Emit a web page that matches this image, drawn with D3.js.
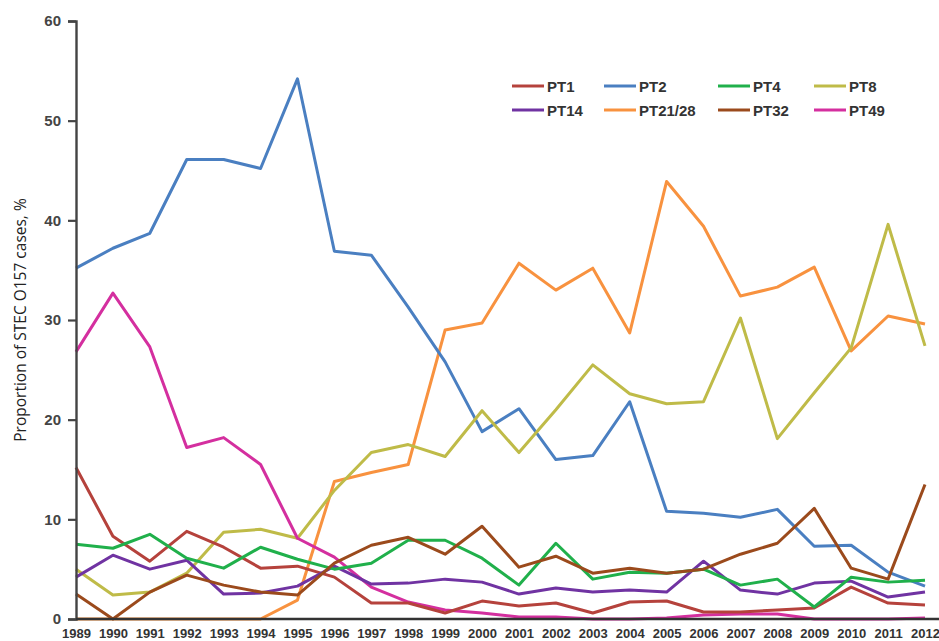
<!DOCTYPE html>
<html><head><meta charset="utf-8">
<script src="https://cdn.jsdelivr.net/npm/d3@7"></script>
<style>body{margin:0;background:#fff}svg{display:block}</style>
</head><body>
<svg id="c" width="939" height="641"></svg>
<script>
const years = d3.range(1989, 2013);
const yTicks = [0, 10, 20, 30, 40, 50, 60];
const seriesNames = ["PT1","PT2","PT4","PT8","PT14","PT21/28","PT32","PT49"];
const seriesColors = ["#b5423c","#4a7fc1","#20b04b","#bfbb48","#7033a2","#f8923f","#9b4a1c","#d42f9f"];
const PT1 = [15.2,8.3,5.8,8.8,7.2,5.1,5.3,4.2,1.6,1.6,0.6,1.8,1.3,1.6,0.6,1.7,1.8,0.7,0.7,0.9,1.1,3.2,1.6,1.4];
const PT2 = [35.2,37.2,38.7,46.1,46.1,45.2,54.2,36.9,36.5,31.3,25.8,18.8,21.1,16.0,16.4,21.8,10.8,10.6,10.2,11.0,7.3,7.4,4.7,3.3];
const PT4 = [7.5,7.1,8.5,6.1,5.1,7.2,6.0,5.0,5.6,7.9,7.9,6.1,3.4,7.6,4.0,4.7,4.6,5.0,3.4,4.0,1.2,4.2,3.7,3.9];
const PT8 = [5.0,2.4,2.7,4.6,8.7,9.0,8.1,12.9,16.7,17.5,16.3,20.9,16.7,21.0,25.5,22.6,21.6,21.8,30.2,18.1,22.7,27.2,39.6,27.4];
const PT14 = [4.2,6.4,5.0,5.9,2.5,2.6,3.3,5.3,3.5,3.6,4.0,3.7,2.5,3.1,2.7,2.9,2.7,5.8,2.9,2.5,3.6,3.8,2.2,2.7];
const PT21_28 = [0,0,0,0,0,0,1.9,13.8,14.7,15.5,29.0,29.7,35.7,33.0,35.2,28.7,43.9,39.4,32.4,33.3,35.3,26.9,30.4,29.6];
const PT32 = [2.5,0,2.7,4.4,3.4,2.7,2.4,5.6,7.4,8.2,6.5,9.3,5.2,6.3,4.6,5.1,4.6,5.0,6.5,7.6,11.1,5.1,4.0,13.5];
const PT49 = [26.8,32.7,27.3,17.2,18.2,15.5,8.1,6.2,3.2,1.7,0.9,0.6,0.2,0.2,0,0,0.1,0.4,0.5,0.5,0,0,0,0.1];
const seriesValues = [PT1,PT2,PT4,PT8,PT14,PT21_28,PT32,PT49];

const svg = d3.select("#c");
const x = d3.scaleLinear().domain([1989, 2012]).range([76, 925]);
const y = d3.scaleLinear().domain([0, 60]).range([619, 21]);

// series lines
const line = d3.line().x((d,i)=>x(years[i])).y(d=>y(d));
const drawOrder = [5,1,3,7,0,4,2,6];
drawOrder.forEach(k=>{
  svg.append("path").datum(seriesValues[k])
    .attr("d", line).attr("fill","none")
    .attr("stroke", seriesColors[k]).attr("stroke-width", 3)
    .attr("stroke-linejoin","round");
});

// y axis
const yAxis = svg.append("g").attr("transform","translate(76,0)")
  .call(d3.axisLeft(y).tickValues(yTicks).tickSize(8).tickPadding(7));
yAxis.select(".domain").attr("stroke","#444").attr("stroke-width",2.4);
yAxis.selectAll(".tick line").attr("stroke","#444").attr("stroke-width",2.2);
yAxis.selectAll("text").attr("font-family","Liberation Sans, Arial, sans-serif")
  .attr("font-size",15).attr("font-weight","bold").attr("fill","#444");

// x axis
const xAxis = svg.append("g").attr("transform","translate(0,619)")
  .call(d3.axisBottom(x).tickValues(years).tickFormat(d3.format("d")).tickSize(0).tickPadding(10));
xAxis.select(".domain").attr("stroke","#333").attr("stroke-width",2.4).attr("d","M76,0H939");
xAxis.selectAll("text").attr("font-family","Liberation Sans, Arial, sans-serif")
  .attr("font-size",13).attr("font-weight","bold").attr("fill","#333");

// y label
svg.append("text").attr("transform","translate(26,320) rotate(-90)")
  .attr("text-anchor","middle").attr("font-family","Open Sans, Liberation Sans, Arial, sans-serif")
  .attr("font-size",15.5).attr("fill","#222").text("Proportion of STEC O157 cases, %");

// legend
const legX = [512, 604, 718, 814];
const legY = [86, 110];
seriesNames.forEach((n,i)=>{
  const cx = legX[i%4], cy = legY[Math.floor(i/4)];
  svg.append("line").attr("x1",cx).attr("x2",cx+32).attr("y1",cy).attr("y2",cy)
    .attr("stroke",seriesColors[i]).attr("stroke-width",3);
  svg.append("text").attr("x",cx+35).attr("y",cy+5.5)
    .attr("font-family","Liberation Sans, Arial, sans-serif").attr("font-size",15)
    .attr("font-weight","bold").attr("fill","#333").text(n);
});
</script>
</body></html>
